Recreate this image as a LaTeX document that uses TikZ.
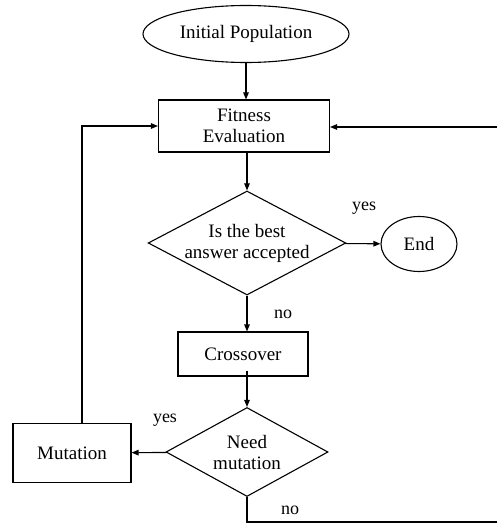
\documentclass[tikz,border=0pt]{standalone}
\usepackage{fontspec}
\setmainfont{Liberation Serif}
\usepackage{tikz}
\usetikzlibrary{positioning,arrows.meta,shapes.geometric}

\begin{document}
\begin{tikzpicture}[
    x=1pt, y=-1pt,
    every node/.style={font=\fontsize{19}{21}\selectfont},
    terminal/.style={ellipse, draw=black, line width=1.1pt, inner sep=0pt, align=center},
    process/.style={rectangle, draw=black, line width=1.1pt, inner sep=0pt, align=center},
    decision/.style={diamond, draw=black, line width=1.1pt, inner sep=0pt, align=center},
    arrow/.style={-{Triangle[length=7pt,width=5.5pt]}, line width=1.1pt},
    plainline/.style={line width=1.1pt},
    answer/.style={font=\fontsize{18}{20}\selectfont},
]
\useasboundingbox (0,0) rectangle (496,524);

% === main column (x=246) ===
\node[terminal, minimum width=206pt, minimum height=57pt] (init) at (246,34) {Initial Population};
\node[process, minimum width=171pt, minimum height=52pt] (fitness) at (244,126) {Fitness\\ Evaluation};
\node[decision, minimum width=190pt, minimum height=100pt, shape aspect=1.9] (best) at (247,243) {Is the best\\ answer accepted};
\node[process, minimum width=130pt, minimum height=44pt] (cross) at (243,354) {Crossover};
\node[decision, minimum width=162pt, minimum height=89pt, shape aspect=1.82] (need) at (247,452) {Need\\ mutation};

% === side nodes ===
\node[terminal, minimum width=76pt, minimum height=55pt] (end) at (419,244) {End};
\node[process, minimum width=118pt, minimum height=59pt] (mut) at (72,453) {Mutation};

% free ends of the right loop (cut by the frame)
\coordinate (rtop) at (497,127);
\coordinate (rbot) at (497,522);

% =======================================================================
% ARROWS
% =======================================================================
\draw[arrow] (init) -- (init |- fitness.north);
\draw[arrow] (fitness.south -| best.north) -- (best);
\draw[arrow] (best) -- (end);
\draw[arrow] (best.south) -- (best.south |- cross.north);
\draw[arrow] ([yshift=6pt]cross.south -| need.north) -- (need);
\draw[arrow] (need) -- (mut);

% --- loops back to the fitness evaluation ---
\draw[arrow] ([xshift=10pt]mut.north) |- (fitness);
\draw[plainline] (need.south) |- (rbot);
\draw[arrow] (rtop) -- (rtop -| fitness.east);

% =======================================================================
% LABELS
% =======================================================================
\node[answer] (yes1) at (364,208) {yes};
\node[answer] (no1)  at (283,314) {no};
\node[answer] (yes2) at (165,420) {yes};
\node[answer] (no2)  at (290,510) {no};

\end{tikzpicture}
\end{document}
